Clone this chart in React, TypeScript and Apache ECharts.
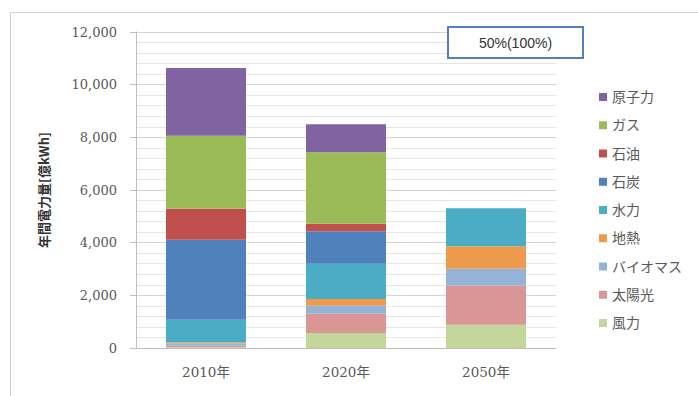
import React, { useEffect, useRef } from "react";
import * as echarts from "echarts";

const categories = ["2010年", "2020年", "2050年"];
const wind = [30, 570, 885];
const solar = [60, 730, 1490];
const biomass = [95, 305, 635];
const geothermal = [30, 255, 850];
const hydro = [860, 1340, 1450];
const coal = [3035, 1230, 0];
const oil = [1180, 290, 0];
const gas = [2770, 2710, 0];
const nuclear = [2570, 1070, 0];
const yTicks = [0, 2000, 4000, 6000, 8000, 10000, 12000];

const seriesDefs = [
  { name: "風力", data: wind, color: "#C3D69B" },
  { name: "太陽光", data: solar, color: "#D99694" },
  { name: "バイオマス", data: biomass, color: "#95B3D7" },
  { name: "地熱", data: geothermal, color: "#EE9A4D" },
  { name: "水力", data: hydro, color: "#4BACC6" },
  { name: "石炭", data: coal, color: "#4F81BD" },
  { name: "石油", data: oil, color: "#C0504D" },
  { name: "ガス", data: gas, color: "#9BBB59" },
  { name: "原子力", data: nuclear, color: "#8064A2" },
];

const serif = "'DejaVu Serif', 'Liberation Serif', 'Noto Sans CJK JP', serif";

export default function App() {
  const ref = useRef<HTMLDivElement>(null);
  useEffect(() => {
    if (!ref.current) return;
    const chart = echarts.init(ref.current, undefined, { renderer: "svg" });
    chart.setOption({
      animation: false,
      backgroundColor: "#ffffff",
      grid: { left: 136, top: 32, width: 420, height: 316, containLabel: false },
      legend: {
        orient: "vertical",
        left: 594,
        top: 85,
        itemWidth: 8,
        itemHeight: 8,
        itemGap: 14.25,
        icon: "rect",
        data: seriesDefs.map((s) => s.name).reverse(),
        textStyle: { fontFamily: serif, fontSize: 14, color: "#595959", lineHeight: 14 },
      },
      xAxis: {
        type: "category",
        data: categories,
        axisLine: { lineStyle: { color: "#bfbfbf" } },
        axisTick: { show: false },
        axisLabel: { fontFamily: serif, fontSize: 13.5, color: "#595959", margin: 17 },
      },
      yAxis: {
        type: "value",
        min: yTicks[0],
        max: yTicks[yTicks.length - 1],
        interval: 2000,
        name: "年間電力量[億kWh]",
        nameLocation: "middle",
        nameGap: 86,
        nameTextStyle: {
          fontFamily: "'Noto Sans CJK JP', sans-serif",
          fontSize: 13,
          fontWeight: "bold",
          color: "#333333",
        },
        axisLine: { show: true, lineStyle: { color: "#bfbfbf" } },
        axisTick: { show: true, length: 6, lineStyle: { color: "#bfbfbf" } },
        axisLabel: {
          fontFamily: serif,
          fontSize: 13,
          color: "#595959",
          margin: 19,
          formatter: (v: number) => v.toLocaleString("en-US"),
        },
        splitLine: { show: true, lineStyle: { color: "#d4d4d4" } },
        minorTick: { show: false, splitNumber: 5 },
        minorSplitLine: { show: true, lineStyle: { color: "#e6e6e6" } },
      },
      series: seriesDefs.map((s) => ({
        name: s.name,
        type: "bar",
        stack: "total",
        data: s.data,
        barWidth: 80,
        itemStyle: { color: s.color },
        emphasis: { disabled: true },
      })),
      graphic: [
        {
          type: "rect",
          shape: { x: 10.5, y: 12.5, width: 720, height: 420 },
          style: { fill: "none", stroke: "#d0d0d0", lineWidth: 1 },
          silent: true,
          z: -10,
        },
        {
          type: "rect",
          shape: { x: 448, y: 27, width: 135, height: 31 },
          style: { fill: "#ffffff", stroke: "#4F81BD", lineWidth: 2 },
          z: 100,
        },
        {
          type: "text",
          x: 515.5,
          y: 43,
          style: {
            text: "50%(100%)",
            fontFamily: "'Liberation Sans', 'Open Sans', sans-serif",
            fontSize: 14,
            fill: "#333333",
            align: "center",
            verticalAlign: "middle",
          },
          z: 101,
        },
      ],
    });
    return () => chart.dispose();
  }, []);
  return (
    <div
      ref={ref}
      style={{ position: "fixed", left: 0, top: 0, width: 698, height: 396 }}
    />
  );
}
